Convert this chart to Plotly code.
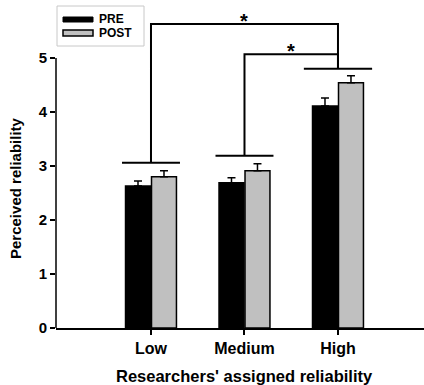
import plotly.graph_objects as go

categories = ["Low", "Medium", "High"]
pre_values = [2.63, 2.69, 4.11]
post_values = [2.80, 2.91, 4.54]
pre_errors = [0.09, 0.09, 0.15]
post_errors = [0.11, 0.13, 0.13]
series_names = ["PRE", "POST"]
y_ticks = [0, 1, 2, 3, 4, 5]
x_title = "Researchers' assigned reliability"
y_title = "Perceived reliability"

# significance brackets: group-line heights and comparison heights
group_line_y = [3.06, 3.19, 4.80]
group_line_halfwidth = [0.31, 0.31, 0.365]
comparisons = [(0, 2, 5.63), (1, 2, 5.07)]

W, H = 424, 385
ML, MR, MT, MB = 56, 0, 5, 57
PW, PH = W - ML - MR, H - MT - MB

def px(x):
    return (x - ML) / PW

def py(y):
    return (H - MB - y) / PH

FONT = "Liberation Sans, Arial, sans-serif"
GREY = "#c0c0c0"

fig = go.Figure()
fig.add_trace(go.Bar(
    x=categories, y=pre_values, name=series_names[0],
    marker=dict(color="black", line=dict(color="black", width=1.5)),
    error_y=dict(type="data", array=pre_errors, arrayminus=[0]*3, symmetric=False,
                 color="black", thickness=1.5, width=4),
    showlegend=False,
))
fig.add_trace(go.Bar(
    x=categories, y=post_values, name=series_names[1],
    marker=dict(color=GREY, line=dict(color="black", width=1.5)),
    error_y=dict(type="data", array=post_errors, arrayminus=[0]*3, symmetric=False,
                 color="black", thickness=1.5, width=4),
    showlegend=False,
))

shapes = []
LW = 2
# y axis line from 0 to 5
shapes.append(dict(type="line", xref="paper", yref="y", x0=0, x1=0,
                   y0=y_ticks[0], y1=y_ticks[-1], line=dict(color="black", width=1.5)))
# group lines
for i, (yl, hw) in enumerate(zip(group_line_y, group_line_halfwidth)):
    shapes.append(dict(type="line", xref="x", yref="y", x0=i - hw, x1=i + hw,
                       y0=yl, y1=yl, line=dict(color="black", width=LW)))
annotations = []
for a, b, yc in comparisons:
    shapes.append(dict(type="path", xref="x", yref="y",
                       path=f"M {a} {group_line_y[a]} L {a} {yc} L {b} {yc} L {b} {group_line_y[b]}",
                       line=dict(color="black", width=LW)))
    annotations.append(dict(x=(a + b) / 2, y=yc, xref="x", yref="y", text="*",
                            showarrow=False, yanchor="middle", yshift=3,
                            font=dict(family=FONT, size=20, color="black", weight="bold")))

# manual legend
shapes.append(dict(type="rect", xref="paper", yref="paper", x0=px(57), x1=px(144),
                   y0=py(46), y1=py(6), line=dict(color="#c8c8c8", width=1), fillcolor="white"))
shapes.append(dict(type="rect", xref="paper", yref="paper", x0=px(63), x1=px(93),
                   y0=py(22), y1=py(17), line=dict(color="black", width=1), fillcolor="black"))
shapes.append(dict(type="rect", xref="paper", yref="paper", x0=px(63), x1=px(93),
                   y0=py(36), y1=py(30), line=dict(color="black", width=1.5), fillcolor=GREY))
for name, yc in zip(series_names, [19.5, 33]):
    annotations.append(dict(x=px(97), y=py(yc), xref="paper", yref="paper", text=name,
                            showarrow=False, xanchor="left", yanchor="middle",
                            font=dict(family=FONT, size=12, color="black", weight="bold")))

# axis titles
annotations.append(dict(x=px(244), y=py(376), xref="paper", yref="paper", text=x_title,
                        showarrow=False, xanchor="center", yanchor="middle",
                        font=dict(family=FONT, size=16.5, color="black", weight="bold")))
annotations.append(dict(x=px(15), y=py(188), xref="paper", yref="paper", text=y_title,
                        showarrow=False, xanchor="center", yanchor="middle", textangle=-90,
                        font=dict(family=FONT, size=15, color="black", weight="bold")))

fig.update_layout(
    width=W, height=H, autosize=False,
    margin=dict(l=ML, r=MR, t=MT, b=MB, pad=0),
    paper_bgcolor="white", plot_bgcolor="white",
    font=dict(family=FONT, color="black", weight="bold"),
    barmode="group", bargap=0.444, bargroupgap=0.04,
    shapes=shapes, annotations=annotations,
    xaxis=dict(range=[-1.016, 2.92], showline=True, linecolor="black", linewidth=1.5,
               ticks="outside", ticklen=5, tickwidth=1.5, tickcolor="black",
               showgrid=False, zeroline=False,
               tickfont=dict(family=FONT, size=16, color="black", weight="bold")),
    yaxis=dict(range=[0, 5.98], tickvals=y_ticks, showline=False,
               ticks="outside", ticklen=5, tickwidth=1.5, tickcolor="black",
               showgrid=False, zeroline=False,
               tickfont=dict(family=FONT, size=15, color="black", weight="bold")),
)

fig.write_html("out.html")
